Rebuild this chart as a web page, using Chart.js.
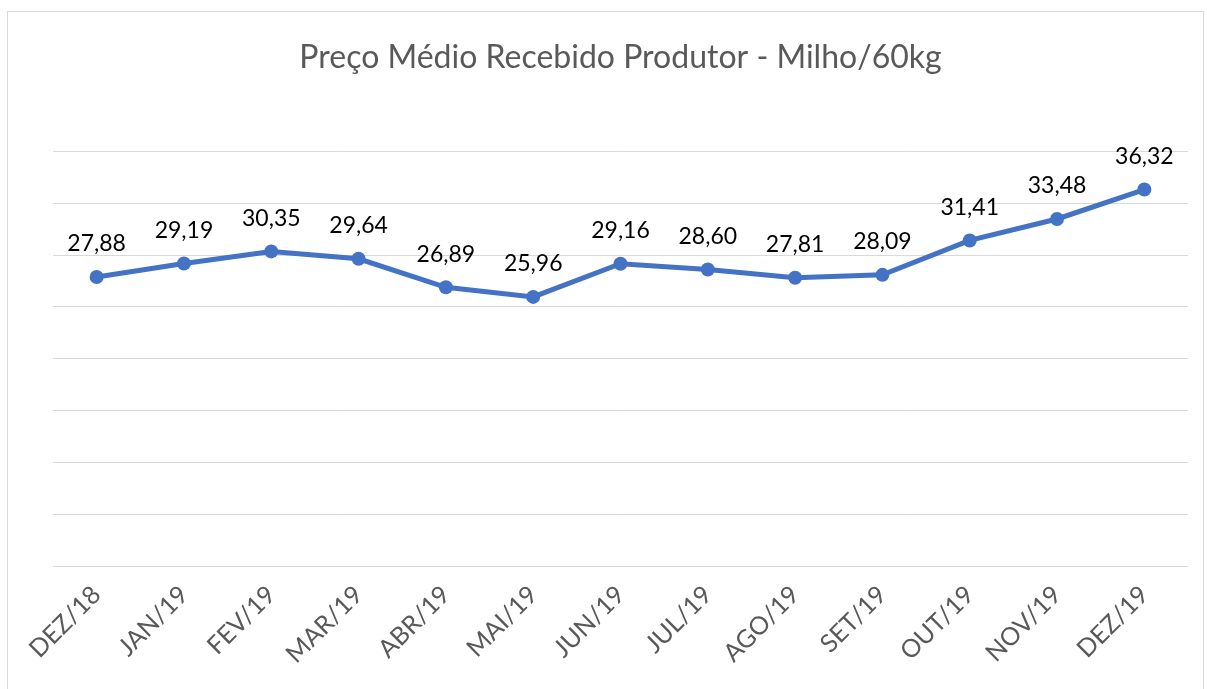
<!DOCTYPE html>
<html>
<head>
<meta charset="utf-8">
<script src="https://cdn.jsdelivr.net/npm/chart.js@4"></script>
<style>
  html, body { margin: 0; padding: 0; background: #fff; }
  #wrap { position: relative; width: 1207px; height: 689px; overflow: hidden; }
  #frame { position: absolute; left: 7px; top: 11px; width: 1195px; height: 700px; border: 1px solid #d9d9d9; }
  canvas { position: absolute; left: 0; top: 0; }
</style>
</head>
<body>
<div id="wrap">
  <div id="frame"></div>
  <canvas id="priceChart" width="1207" height="689"></canvas>
</div>
<script>
const months = ['DEZ/18', 'JAN/19', 'FEV/19', 'MAR/19', 'ABR/19', 'MAI/19', 'JUN/19', 'JUL/19', 'AGO/19', 'SET/19', 'OUT/19', 'NOV/19', 'DEZ/19'];
const prices = [27.88, 29.19, 30.35, 29.64, 26.89, 25.96, 29.16, 28.60, 27.81, 28.09, 31.41, 33.48, 36.32];

const fontFamily = 'Lato, "Open Sans", sans-serif';

// draws the value above each point, comma as decimal separator
const valueLabels = {
  id: 'valueLabels',
  afterDatasetsDraw(chart) {
    const ctx = chart.ctx;
    const meta = chart.getDatasetMeta(0);
    ctx.save();
    ctx.font = '23px ' + fontFamily;
    ctx.fillStyle = '#000';
    ctx.textAlign = 'center';
    ctx.textBaseline = 'middle';
    meta.data.forEach((pt, i) => {
      ctx.fillText(prices[i].toFixed(2).replace('.', ','), pt.x, pt.y - 33);
    });
    ctx.restore();
  }
};

new Chart(document.getElementById('priceChart'), {
  type: 'line',
  data: {
    labels: months,
    datasets: [
      {
        data: prices,
        borderColor: '#4472c4',
        backgroundColor: '#4472c4',
        borderWidth: 5,
        pointRadius: 7,
        pointBorderWidth: 0,
        tension: 0
      }
    ]
  },
  options: {
    responsive: false,
    animation: false,
    layout: { padding: { left: 53, right: 19, top: 0, bottom: 0 } },
    plugins: {
      legend: { display: false },
      tooltip: { enabled: false },
      title: {
        display: true,
        text: 'Preço Médio Recebido Produtor - Milho/60kg',
        color: '#595959',
        font: { family: fontFamily, size: 32, weight: 'normal' },
        padding: { top: 38, bottom: 75 }
      }
    },
    scales: {
      x: {
        offset: true,
        grid: { display: false },
        border: { display: false },
        ticks: {
          color: '#595959',
          font: { family: fontFamily, size: 25 },
          minRotation: 45,
          maxRotation: 45,
          padding: 6
        },
        afterFit: (scale) => { scale.height = 123; }
      },
      y: {
        min: 0,
        max: 40,
        ticks: { stepSize: 5, display: false },
        grid: { color: '#d9d9d9', lineWidth: 1, drawTicks: false },
        border: { display: false },
        afterFit: (scale) => { scale.width = 0; }
      }
    }
  },
  plugins: [valueLabels]
});
</script>
</body>
</html>
